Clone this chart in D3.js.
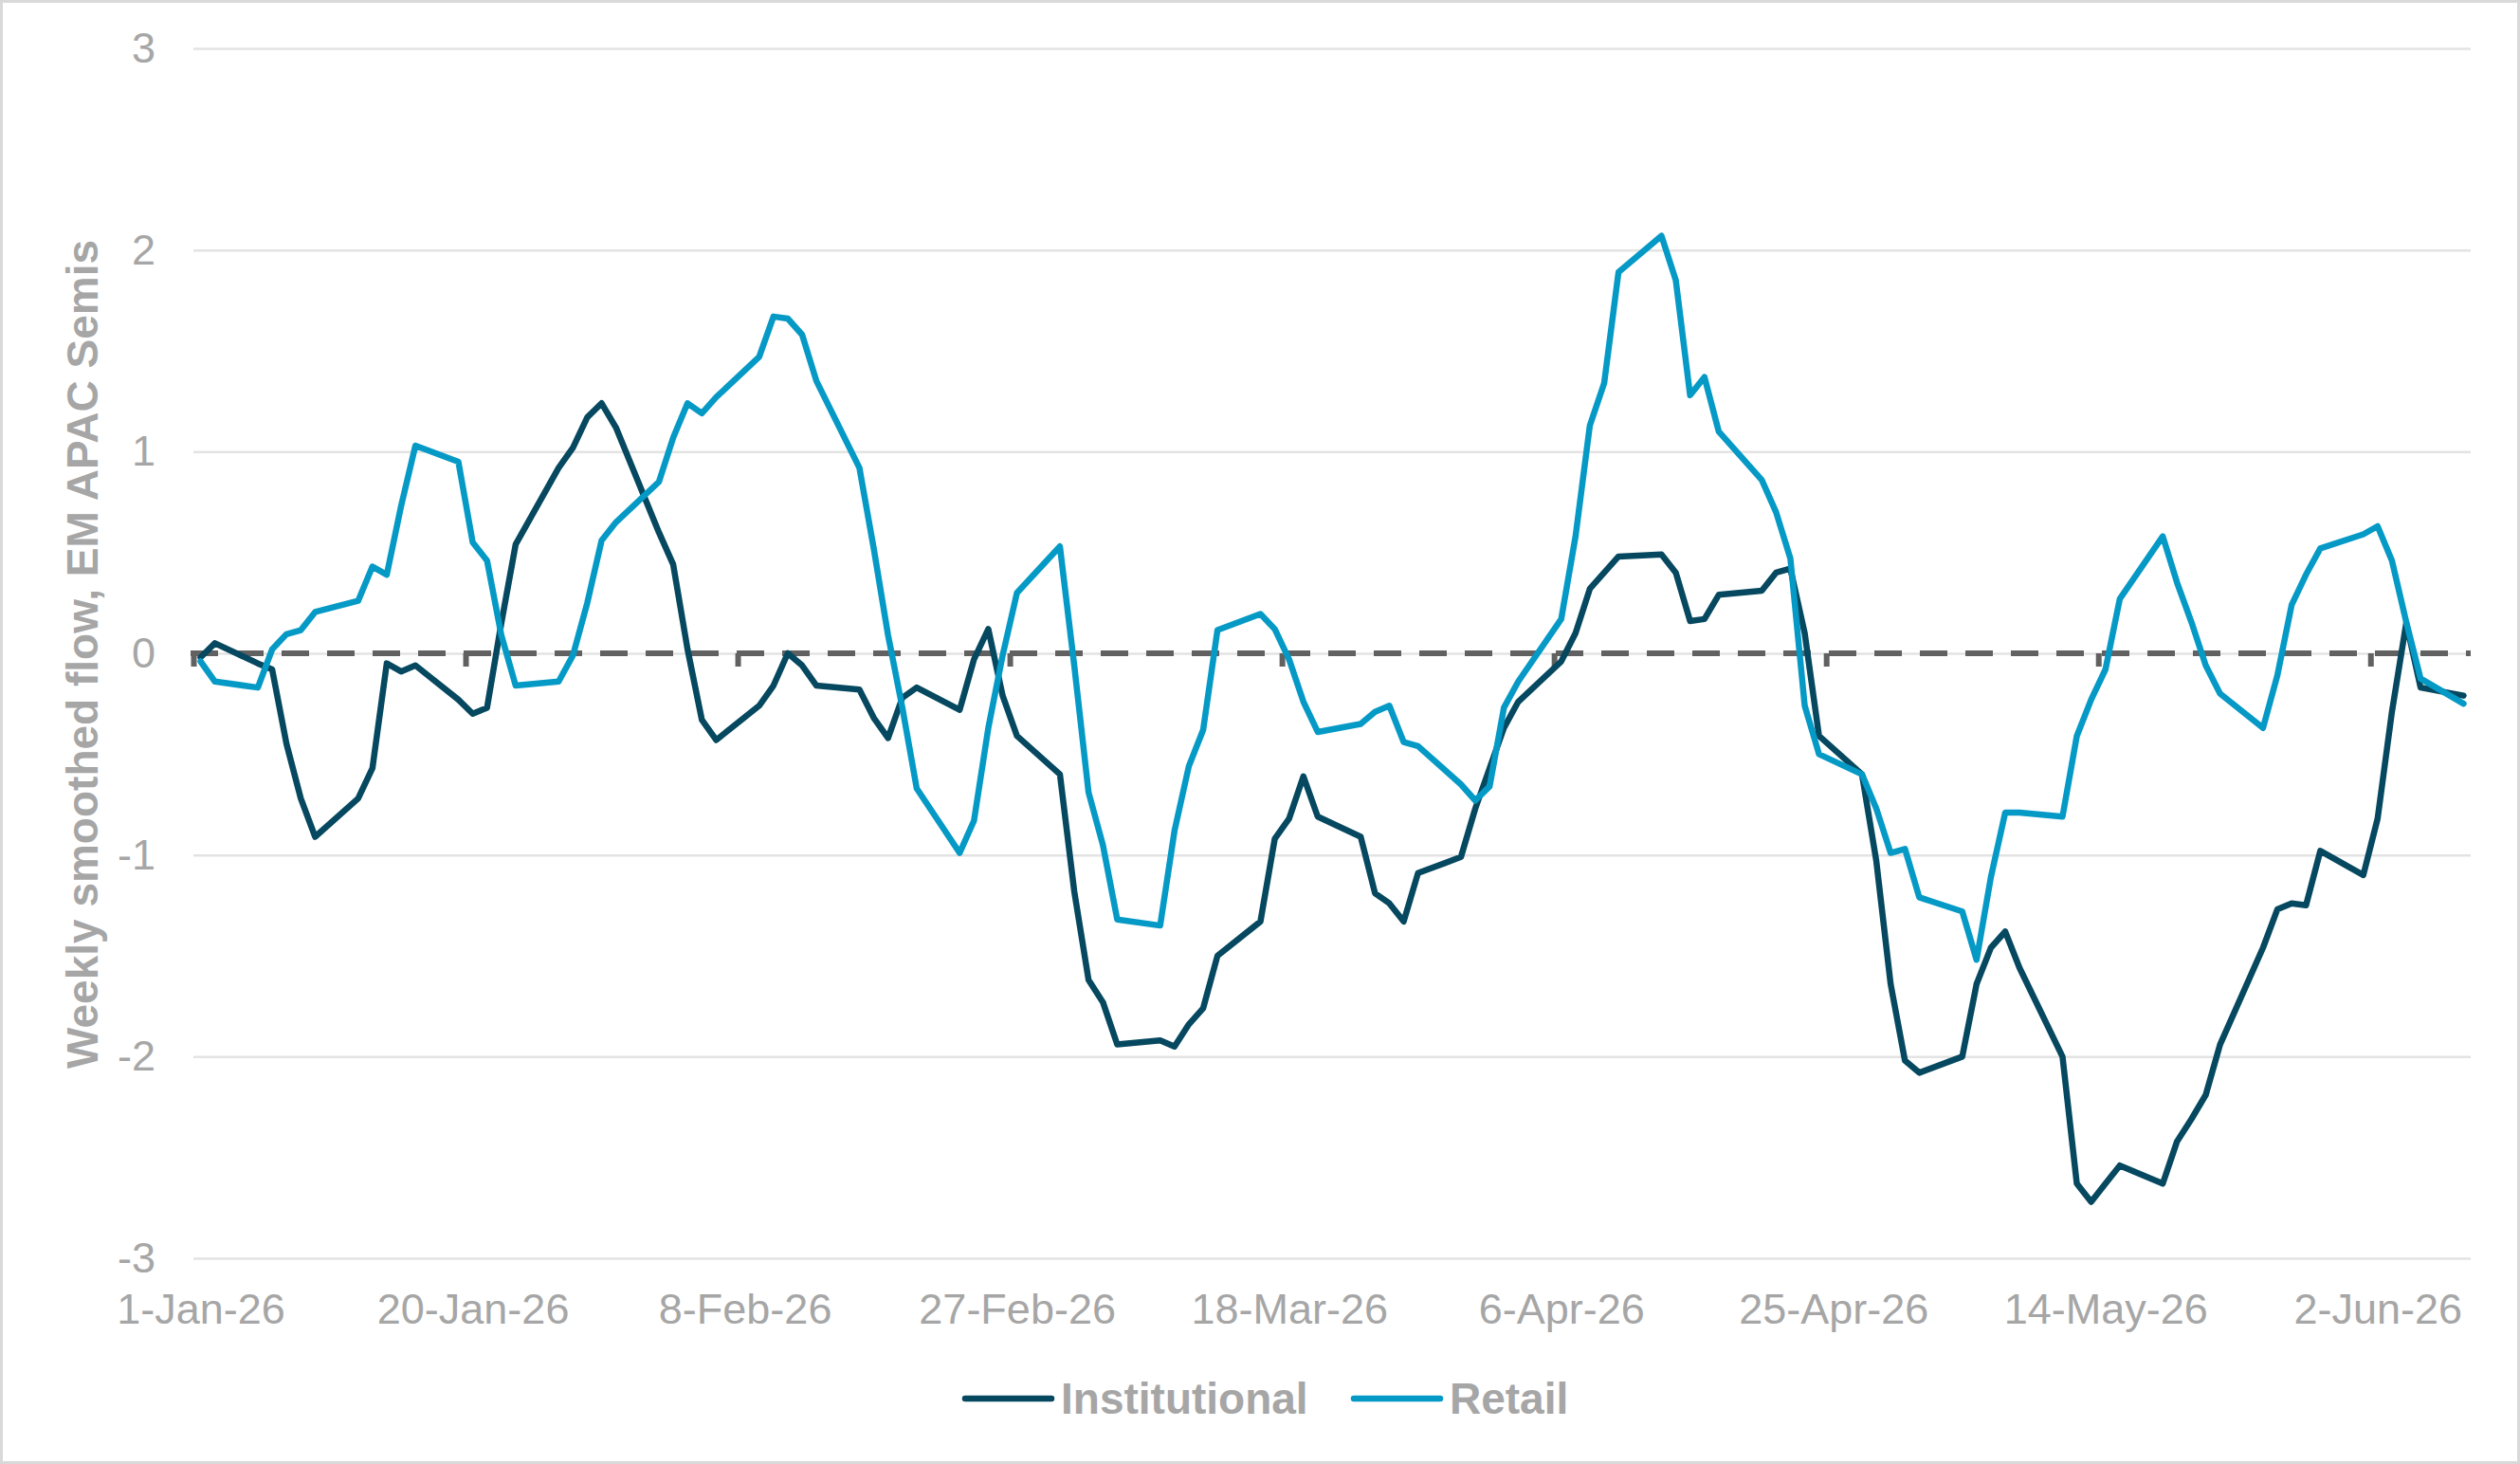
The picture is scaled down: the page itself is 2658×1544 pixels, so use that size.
<!DOCTYPE html>
<html>
<head>
<meta charset="UTF-8">
<title>Weekly smoothed flow, EM APAC Semis</title>
<script src="https://d3js.org/d3.v7.min.js"></script>
<style>
  body { margin: 0; background: #fff; }
  svg text { font-family: "Liberation Sans", Arial, sans-serif; }
</style>
</head>
<body>
<script>
// business days, 2026
var dates = [
  "2026-01-01","2026-01-02","2026-01-05","2026-01-06","2026-01-07","2026-01-08","2026-01-09",
  "2026-01-12","2026-01-13","2026-01-14","2026-01-15","2026-01-16","2026-01-19","2026-01-20",
  "2026-01-21","2026-01-22","2026-01-23","2026-01-26","2026-01-27","2026-01-28","2026-01-29","2026-01-30",
  "2026-02-02","2026-02-03","2026-02-04","2026-02-05","2026-02-06","2026-02-09","2026-02-10",
  "2026-02-11","2026-02-12","2026-02-13","2026-02-16","2026-02-17","2026-02-18","2026-02-19",
  "2026-02-20","2026-02-23","2026-02-24","2026-02-25","2026-02-26","2026-02-27",
  "2026-03-02","2026-03-03","2026-03-04","2026-03-05","2026-03-06","2026-03-09","2026-03-10",
  "2026-03-11","2026-03-12","2026-03-13","2026-03-16","2026-03-17","2026-03-18","2026-03-19",
  "2026-03-20","2026-03-23","2026-03-24","2026-03-25","2026-03-26","2026-03-27","2026-03-30","2026-03-31",
  "2026-04-01","2026-04-02","2026-04-03","2026-04-06","2026-04-07","2026-04-08","2026-04-09",
  "2026-04-10","2026-04-13","2026-04-14","2026-04-15","2026-04-16","2026-04-17","2026-04-20",
  "2026-04-21","2026-04-22","2026-04-23","2026-04-24","2026-04-27","2026-04-28","2026-04-29","2026-04-30",
  "2026-05-01","2026-05-04","2026-05-05","2026-05-06","2026-05-07","2026-05-08","2026-05-11",
  "2026-05-12","2026-05-13","2026-05-14","2026-05-15","2026-05-18","2026-05-19","2026-05-20",
  "2026-05-21","2026-05-22","2026-05-25","2026-05-26","2026-05-27","2026-05-28","2026-05-29",
  "2026-06-01","2026-06-02","2026-06-03","2026-06-04","2026-06-05","2026-06-08"
];

var institutional = [
  -0.02,0.05,-0.05,-0.08,-0.45,-0.72,-0.91,-0.72,-0.57,-0.05,-0.09,-0.06,-0.23,-0.30,-0.27,0.15,0.54,0.92,1.02,1.17,1.24,1.12,
  0.60,0.44,0.02,-0.33,-0.43,-0.26,-0.16,0.00,-0.06,-0.16,-0.18,-0.32,-0.42,-0.22,-0.17,-0.28,-0.03,0.12,-0.21,-0.41,
  -0.60,-1.18,-1.62,-1.73,-1.94,-1.92,-1.95,-1.84,-1.76,-1.50,-1.33,-0.92,-0.82,-0.61,-0.81,-0.91,-1.19,-1.24,-1.33,-1.09,-1.01,-0.77,
  -0.57,-0.37,-0.24,-0.04,0.10,0.32,0.40,0.48,0.49,0.40,0.16,0.17,0.29,0.31,0.40,0.42,0.10,-0.41,-0.60,-1.03,-1.64,-2.02,
  -2.08,-2.00,-1.64,-1.46,-1.38,-1.56,-2.00,-2.63,-2.72,-2.63,-2.54,-2.63,-2.42,-2.31,-2.19,-1.94,-1.46,-1.27,-1.24,-1.25,-0.98,
  -1.10,-0.82,-0.29,0.15,-0.17,-0.21
];

var retail = [
  -0.04,-0.14,-0.17,0.02,0.095,0.115,0.205,0.26,0.43,0.39,0.73,1.03,0.95,0.55,0.46,0.09,-0.16,-0.14,-0.01,0.25,0.56,0.65,
  0.85,1.07,1.24,1.19,1.27,1.47,1.67,1.66,1.58,1.35,0.92,0.52,0.09,-0.27,-0.67,-0.99,-0.83,-0.37,-0.01,0.30,
  0.53,-0.06,-0.69,-0.95,-1.32,-1.35,-0.88,-0.56,-0.38,0.115,0.195,0.12,-0.03,-0.24,-0.39,-0.35,-0.29,-0.26,-0.44,-0.46,-0.65,-0.73,
  -0.66,-0.27,-0.14,0.17,0.58,1.13,1.34,1.89,2.07,1.85,1.28,1.37,1.10,0.86,0.70,0.47,-0.26,-0.50,-0.60,-0.77,-0.99,-0.97,
  -1.21,-1.28,-1.52,-1.11,-0.79,-0.79,-0.81,-0.41,-0.23,-0.08,0.27,0.58,0.35,0.155,-0.06,-0.20,-0.37,-0.11,0.24,0.39,0.52,
  0.59,0.63,0.46,0.155,-0.125,-0.25
];

var seriesNames = ["Institutional", "Retail"];
var seriesColors = ["#05485F", "#0599C6"];
var yTicks = [-3, -2, -1, 0, 1, 2, 3];
var xTickLabels = ["1-Jan-26","20-Jan-26","8-Feb-26","27-Feb-26","18-Mar-26","6-Apr-26","25-Apr-26","14-May-26","2-Jun-26"];
var yTitle = "Weekly smoothed flow, EM APAC Semis";

var W = 2658, H = 1544;
var plotL = 204, plotR = 2606, plotT = 51, plotB = 1327;
var gray = "#A6A6A6";
var halfDay = 12 * 3600 * 1000;

var parseDay = d3.utcParse("%Y-%m-%d");
var parseTick = d3.utcParse("%d-%b-%y");
var days = dates.map(parseDay);
var tickDays = xTickLabels.map(parseTick);

// each day is a slot; points sit in the middle of their slot
var x = d3.scaleUtc()
    .domain([Date.UTC(2026,0,1), Date.UTC(2026,5,9)])
    .range([plotL, plotR]);
var y = d3.scaleLinear().domain([-3, 3]).range([plotB, plotT]);

var svg = d3.select("body").append("svg")
    .attr("width", W).attr("height", H);

svg.append("rect")
    .attr("x", 1.5).attr("y", 1.5)
    .attr("width", W - 3).attr("height", H - 3)
    .attr("fill", "#fff").attr("stroke", "#D9D9D9").attr("stroke-width", 3);

// gridlines + y labels (plain hyphen minus, like the original)
var yAxis = svg.append("g")
    .attr("transform", "translate(" + plotL + ",0)")
    .call(d3.axisLeft(y).tickValues(yTicks).tickSize(-(plotR - plotL)).tickPadding(40)
        .tickFormat(function(d){ return String(d); }));
yAxis.select(".domain").remove();
yAxis.selectAll(".tick line").attr("stroke", "#E3E3E3").attr("stroke-width", 2.5);
yAxis.selectAll(".tick text").attr("fill", gray).attr("font-size", 45);

// zero line with tick marks (dashed axis)
svg.append("line")
    .attr("x1", plotL - 3).attr("x2", plotR)
    .attr("y1", y(0)).attr("y2", y(0))
    .attr("stroke", "#616161").attr("stroke-width", 6)
    .attr("stroke-dasharray", "29,19");
var zeroTicks = svg.append("g")
    .attr("transform", "translate(0," + y(0) + ")")
    .call(d3.axisBottom(x).tickValues(tickDays).tickSize(14).tickFormat(""));
zeroTicks.select(".domain").remove();
zeroTicks.selectAll(".tick line").attr("stroke", "#616161").attr("stroke-width", 6);

// x labels, centred on their day slot
var xAxis = svg.append("g")
    .attr("transform", "translate(0," + plotB + ")")
    .call(d3.axisBottom(x)
        .tickValues(tickDays.map(function(d){ return new Date(+d + halfDay); }))
        .tickSize(0)
        .tickFormat(function(d, i){ return xTickLabels[i]; }));
xAxis.select(".domain").remove();
xAxis.selectAll(".tick text")
    .attr("y", 69).attr("dy", 0)
    .attr("fill", gray).attr("font-size", 45);

// series
var line = d3.line()
    .x(function(d){ return x(+d.date + halfDay); })
    .y(function(d){ return y(d.value); });

[institutional, retail].forEach(function(vals, k){
  var pts = vals.map(function(v, i){ return {date: days[i], value: v}; });
  svg.append("path")
      .datum(pts)
      .attr("d", line)
      .attr("fill", "none")
      .attr("stroke", seriesColors[k])
      .attr("stroke-width", 6.5)
      .attr("stroke-linejoin", "round")
      .attr("stroke-linecap", "round");
});

// y title
svg.append("text")
    .attr("transform", "translate(103," + ((plotT + plotB) / 2 + 1) + ") rotate(-90)")
    .attr("text-anchor", "middle")
    .attr("font-size", 46).attr("font-weight", "bold")
    .attr("fill", gray)
    .text(yTitle);

// legend
var legendX = [1018, 1428];
var legend = svg.selectAll(".legend")
    .data(seriesNames)
    .enter().append("g")
    .attr("class", "legend")
    .attr("transform", function(d, i){ return "translate(" + legendX[i] + ",1475)"; });
legend.append("line")
    .attr("x1", 0).attr("x2", 91)
    .attr("stroke", function(d, i){ return seriesColors[i]; })
    .attr("stroke-width", 6.5)
    .attr("stroke-linecap", "round");
legend.append("text")
    .attr("x", 101).attr("y", 16)
    .attr("font-size", 46).attr("font-weight", "bold")
    .attr("fill", gray)
    .text(function(d){ return d; });
</script>
</body>
</html>
